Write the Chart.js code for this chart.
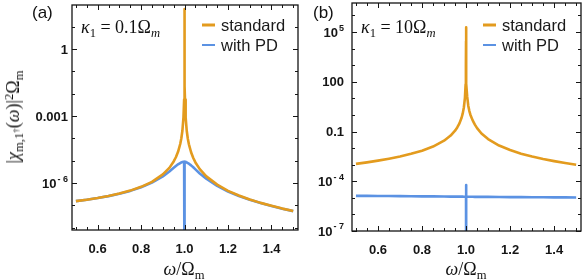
<!DOCTYPE html>
<html>
<head>
<meta charset="utf-8">
<script src="https://cdn.jsdelivr.net/npm/chart.js@4.4.0/dist/chart.umd.min.js"></script>
<style>
  html, body { margin: 0; padding: 0; background: #fff; }
  #wrap { position: relative; width: 582px; height: 279px; overflow: hidden; }
  canvas { position: absolute; top: 0; }
  .txt { position: absolute; white-space: nowrap; color: #111; line-height: 1; }
  .math { font-family: "Liberation Serif", "DejaVu Serif", serif; font-size: 18px; }
  .lbl { font-family: "Liberation Sans", Arial, sans-serif; font-size: 17px; }
  .sb { font-size: 70%; position: relative; top: 0.3em; }
  .sp { font-size: 70%; position: relative; top: -0.45em; }
</style>
</head>
<body>
<div id="wrap">
  <canvas id="chartA" width="300" height="279" style="left:0"></canvas>
  <canvas id="chartB" width="282" height="279" style="left:300px"></canvas>

  <div class="txt lbl" style="left:32px; top:4px;">(a)</div>
  <div class="txt lbl" style="left:313px; top:4px;">(b)</div>

  <div class="txt math" style="left:81px; top:18px;"><i>κ</i><span class="sb">1</span> = 0.1Ω<span class="sb"><i>m</i></span></div>
  <div class="txt math" style="left:361px; top:18px;"><i>κ</i><span class="sb">1</span> = 10Ω<span class="sb"><i>m</i></span></div>

  <div class="txt math" style="left:184px; top:269px; transform:translate(-50%,-50%);"><i>ω</i>/Ω<span class="sb">m</span></div>
  <div class="txt math" style="left:466px; top:269px; transform:translate(-50%,-50%);"><i>ω</i>/Ω<span class="sb">m</span></div>

  <div class="txt math" style="left:13px; top:117px; transform:translate(-50%,-50%) rotate(-90deg);">|<i>χ</i><span class="sb">m,1<span class="sp">†</span></span>(<i>ω</i>)|<span class="sp">2</span>Ω<span class="sb">m</span></div>
</div>

<script>
// panel (a): kappa_1 = 0.1 Omega_m
const omegaA = [0.5, 0.55, 0.6, 0.65, 0.7, 0.75, 0.8, 0.85, 0.9, 0.93, 0.95, 0.96, 0.97, 0.98, 0.985, 0.99,
  0.995, 0.998, 0.999, 0.9995, 0.9999, 1.0, 1.0001, 1.0005, 1.001, 1.002, 1.005,
  1.01, 1.015, 1.02, 1.03, 1.04, 1.05, 1.07, 1.1, 1.15, 1.2, 1.25, 1.3, 1.35, 1.4, 1.45, 1.5];
const standardA = [1.56e-7, 1.81e-7, 2.15e-7, 2.64e-7, 3.38e-7, 4.6e-7, 6.8e-7, 1.14e-6, 2.44e-6, 4.8e-6, 9.3e-6, 1.43e-5, 2.5e-5, 5.6e-5, 9.9e-5, 2.2e-4,
  8.8e-4, 5.5e-3, 2.2e-2, 8.8e-2, 2.2, 62, 2.2, 8.8e-2, 2.2e-2, 5.5e-3, 8.8e-4,
  2.2e-4, 9.6e-5, 5.4e-5, 2.4e-5, 1.32e-5, 8.4e-6, 4.2e-6, 2.0e-6, 8.5e-7, 4.5e-7, 2.8e-7, 1.85e-7, 1.3e-7, 9.6e-8, 7.2e-8, 5.6e-8];
const withPdA = [1.56e-7, 1.8e-7, 2.13e-7, 2.61e-7, 3.32e-7, 4.47e-7, 6.5e-7, 1.05e-6, 2.0e-6, 3.3e-6, 4.8e-6, 5.8e-6, 6.9e-6, 7.9e-6, 8.4e-6, 8.7e-6,
  8.9e-6, 8.9e-6, 8.9e-6, 8.9e-6, 8.9e-6, 1e-12, 8.9e-6, 8.9e-6, 8.9e-6, 8.9e-6, 8.7e-6,
  8.4e-6, 7.9e-6, 7.4e-6, 6.2e-6, 5.1e-6, 4.1e-6, 2.7e-6, 1.57e-6, 7.5e-7, 4.2e-7, 2.65e-7, 1.8e-7, 1.27e-7, 9.4e-8, 7.1e-8, 5.55e-8];
const yTickValsA = [1, 1e-3, 1e-6];
const yTickLabelsA = ["1", "0.001", "10^-6"];

// panel (b): kappa_1 = 10 Omega_m
const omegaB = [0.5, 0.55, 0.6, 0.65, 0.7, 0.75, 0.8, 0.85, 0.9, 0.93, 0.95, 0.96, 0.97, 0.98, 0.985, 0.99,
  0.995, 0.998, 0.999, 0.9995, 0.9999, 0.99995, 1.0, 1.00005, 1.0001, 1.0005, 1.001, 1.002, 1.005,
  1.01, 1.015, 1.02, 1.03, 1.04, 1.05, 1.07, 1.1, 1.15, 1.2, 1.25, 1.3, 1.35, 1.4, 1.45, 1.5];
const standardB = [1.12e-3, 1.38e-3, 1.75e-3, 2.29e-3, 3.1e-3, 4.5e-3, 7.0e-3, 1.24e-2, 2.8e-2, 5.7e-2, 0.112, 0.175, 0.31, 0.70, 1.24, 2.8,
  11.2, 70, 280, 1120, 2.8e4, 7.0e4, 1.9e5, 7.0e4, 2.8e4, 1150, 300, 78, 13,
  3.6, 1.7, 1.0, 0.47, 0.26, 0.16, 7.6e-2, 3.5e-2, 1.42e-2, 7.6e-3, 4.6e-3, 3.1e-3, 2.2e-3, 1.64e-3, 1.26e-3, 1.0e-3];
const withPdB = [1.32e-5, 1.31e-5, 1.29e-5, 1.28e-5, 1.26e-5, 1.25e-5, 1.23e-5, 1.22e-5, 1.2e-5, 1.19e-5, 1.19e-5, 1.18e-5, 1.18e-5, 1.18e-5, 1.18e-5, 1.17e-5,
  1.17e-5, 1.17e-5, 1.17e-5, 1.17e-5, 1.17e-5, 6e-5, 1e-12, 1.17e-5, 1.17e-5, 1.17e-5, 1.17e-5, 1.17e-5, 1.17e-5,
  1.17e-5, 1.16e-5, 1.16e-5, 1.16e-5, 1.15e-5, 1.15e-5, 1.14e-5, 1.14e-5, 1.12e-5, 1.11e-5, 1.1e-5, 1.09e-5, 1.08e-5, 1.07e-5, 1.06e-5, 1.05e-5];
const yTickValsB = [1e5, 100, 0.1, 1e-4, 1e-7];
const yTickLabelsB = ["10^5", "100", "0.1", "10^-4", "10^-7"];

const seriesNames = ["standard", "with PD"];
const xTickVals = [0.6, 0.8, 1.0, 1.2, 1.4];

const ORANGE = "#E39B1E";
const BLUE = "#5B92E3";
const INK = "#151515";

function toPoints(xs, ys) {
  return xs.map((x, i) => ({ x: x, y: ys[i] }));
}

const framePlugin = {
  id: "frame",
  afterDatasetsDraw(chart, args, opts) {
    const ctx = chart.ctx;
    const a = chart.chartArea;
    const xs = chart.scales.x;
    const ys = chart.scales.y;
    ctx.save();
    ctx.strokeStyle = INK;
    ctx.lineWidth = 1;
    function seg(x1, y1, x2, y2) {
      ctx.beginPath(); ctx.moveTo(x1, y1); ctx.lineTo(x2, y2); ctx.stroke();
    }
    // x ticks, inward, bottom and top
    for (let i = 0; i <= 20; i++) {
      const v = 0.5 + i * 0.05;
      const px = Math.round(xs.getPixelForValue(v)) + 0.5;
      const major = xTickVals.some(t => Math.abs(t - v) < 1e-6);
      const len = major ? 5 : 3;
      seg(px, a.bottom, px, a.bottom - len);
      seg(px, a.top, px, a.top + len);
    }
    // y ticks every decade
    for (let d = opts.decMin; d <= opts.decMax; d++) {
      const v = Math.pow(10, d);
      const py = Math.round(ys.getPixelForValue(v)) + 0.5;
      const major = opts.tickVals.some(t => Math.abs(Math.log10(t) - d) < 1e-6);
      const len = major ? 5 : 3;
      seg(a.left, py, a.left + len, py);
      seg(a.right, py, a.right - len, py);
    }
    // frame
    ctx.lineWidth = 1.3;
    ctx.strokeRect(a.left, a.top, a.right - a.left, a.bottom - a.top);

    // y tick labels
    ctx.fillStyle = INK;
    ctx.textBaseline = "middle";
    ctx.textAlign = "left";
    opts.tickVals.forEach((v, i) => {
      const py = ys.getPixelForValue(v);
      const parts = opts.tickLabels[i].split("^");
      ctx.font = "bold 13px 'Liberation Sans', Arial, sans-serif";
      const wb = ctx.measureText(parts[0]).width;
      let we = 0;
      let ex = "";
      if (parts[1]) {
        ex = parts[1].replace("-", "- ");
        ctx.font = "bold 9px 'Liberation Sans', Arial, sans-serif";
        we = ctx.measureText(ex).width + 1;
      }
      ctx.font = "bold 13px 'Liberation Sans', Arial, sans-serif";
      ctx.fillText(parts[0], opts.labelRight - wb - we, py + 1);
      if (ex) {
        ctx.font = "bold 9px 'Liberation Sans', Arial, sans-serif";
        ctx.fillText(ex, opts.labelRight - we + 1, py - 4);
      }
    });

    // legend
    chart.data.datasets.forEach((ds, i) => {
      const ly = opts.legendY + i * 20;
      ctx.strokeStyle = ds.borderColor;
      ctx.lineWidth = i === 0 ? 3 : 2;
      seg(opts.legendX, ly, opts.legendX + 13, ly);
      ctx.fillStyle = "#1a1a1a";
      ctx.font = "16.5px 'Liberation Sans', Arial, sans-serif";
      ctx.fillText(ds.label, opts.legendX + 19, ly + 1);
    });
    ctx.restore();
  }
};

function makePanel(id, omega, std, pd, yMin, yMax, padding, xHeight, frameOpts) {
  return new Chart(document.getElementById(id), {
    type: "line",
    data: {
      datasets: [
        { label: seriesNames[0], data: toPoints(omega, std), borderColor: ORANGE, borderWidth: 2.6 },
        { label: seriesNames[1], data: toPoints(omega, pd), borderColor: BLUE, borderWidth: 2.6 }
      ]
    },
    options: {
      responsive: false,
      animation: false,
      layout: { padding: padding },
      elements: {
        point: { radius: 0 },
        line: { tension: 0, borderJoinStyle: "round", borderCapStyle: "butt" }
      },
      plugins: {
        legend: { display: false },
        tooltip: { enabled: false },
        frame: frameOpts
      },
      scales: {
        x: {
          type: "linear",
          min: 0.482,
          max: 1.522,
          grid: { display: false },
          border: { display: false },
          afterBuildTicks: s => { s.ticks = xTickVals.map(v => ({ value: v })); },
          afterFit: s => { s.height = xHeight; },
          ticks: {
            padding: 4,
            color: INK,
            font: { family: "'Liberation Sans', Arial, sans-serif", size: 13, weight: "bold" },
            callback: v => Number(v).toFixed(1),
            maxRotation: 0,
            autoSkip: false
          }
        },
        y: {
          type: "logarithmic",
          min: yMin,
          max: yMax,
          grid: { display: false },
          border: { display: false },
          ticks: { display: false },
          afterFit: s => { s.width = padding.yWidth; }
        }
      }
    },
    plugins: [framePlugin]
  });
}

makePanel("chartA", omegaA, standardA, withPdA, Math.pow(10, -8.1), Math.pow(10, 1.97),
  { left: 0, right: 2, top: 5, bottom: 0, yWidth: 72 }, 49,
  { decMin: -8, decMax: 1, tickVals: yTickValsA, tickLabels: yTickLabelsA, labelRight: 68, legendX: 202, legendY: 25 });

makePanel("chartB", omegaB, standardB, withPdB, 1e-7, Math.pow(10, 6.75),
  { left: 0, right: 1, top: 3, bottom: 0, yWidth: 52 }, 48,
  { decMin: -7, decMax: 6, tickVals: yTickValsB, tickLabels: yTickLabelsB, labelRight: 44, legendX: 183, legendY: 25 });
</script>
</body>
</html>
